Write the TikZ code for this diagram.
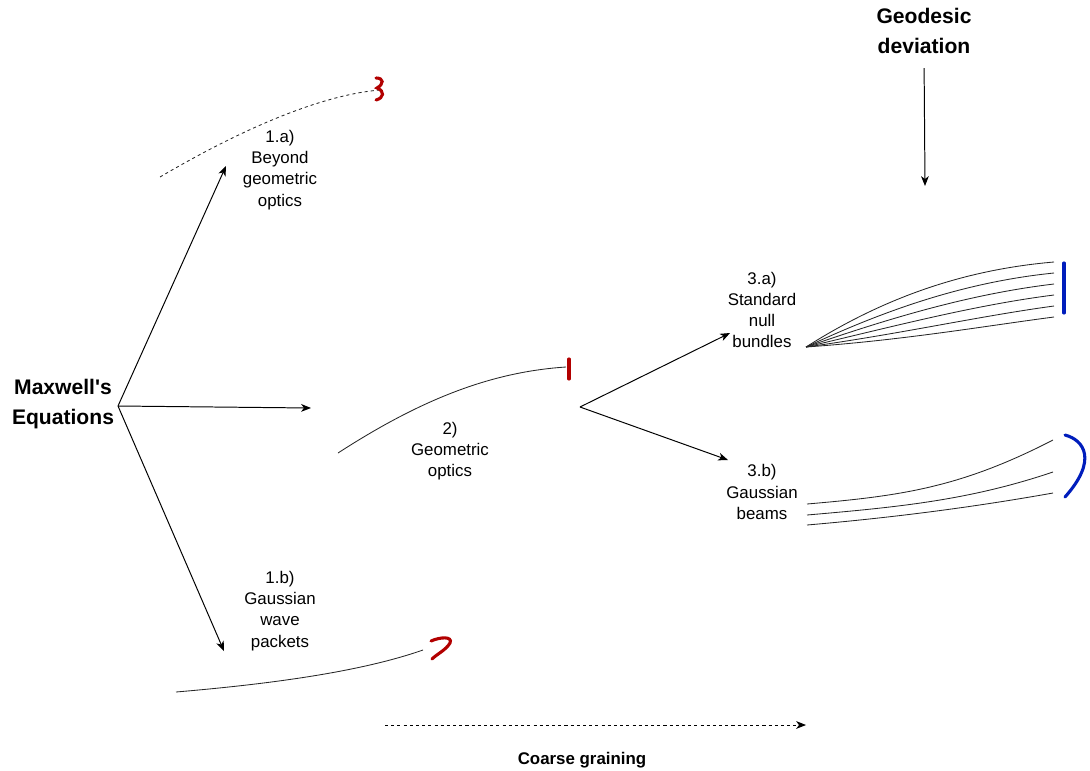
\documentclass[tikz,border=0pt]{standalone}
\usepackage{fontspec}
\setmainfont{Liberation Sans}
\usetikzlibrary{arrows.meta}

\definecolor{cutred}{HTML}{B20000}
\definecolor{cutblue}{HTML}{001DBC}

\begin{document}
\begin{tikzpicture}[x=0.025cm, y=-0.025cm, >={Stealth[length=7pt, width=5.5pt, inset=2pt]}, line width=0.7pt,
    label/.style={align=center, inner sep=0pt, font=\fontsize{12}{15}\selectfont},
    title/.style={align=center, inner sep=0pt, font=\fontsize{15}{21}\selectfont\bfseries},
    ray/.style={line width=0.6pt, black!85},
    cut/.style={line width=2.2pt, line cap=round}]
    \useasboundingbox (0,0) rectangle (1090,770);

    %define the text blocks
    \node[title] (maxwell) at (63,404) {Maxwell\textquotesingle s\\Equations};
    \node[title] (geo) at (924,31) {Geodesic\\deviation};
    \node[label] (beyond) at (280,170) {1.a)\\Beyond\\geometric\\optics};
    \node[label] (packets) at (280,611) {1.b)\\Gaussian\\wave\\packets};
    \node[label] (geom) at (450,451) {2)\\Geometric\\optics};
    \node[label] (bundles) at (762,310) {3.a)\\Standard\\null\\bundles};
    \node[label] (beams) at (762,492) {3.b)\\Gaussian\\beams};
    \node[inner sep=0pt, font=\fontsize{12}{15}\selectfont\bfseries] (coarse) at (582,760) {Coarse graining};

    %define the points the arrows run between
    \coordinate (fork1) at (118,406);
    \coordinate (to1a) at (226,166);
    \coordinate (to2) at (311,408);
    \coordinate (to1b) at (224,651);
    \coordinate (fork2) at (580,407);
    \coordinate (to3a) at (730,333);
    \coordinate (to3b) at (728,460);
    \coordinate (geotip) at (925,186);
    \coordinate (cgstart) at (385,725);
    \coordinate (cgend) at (806,725);

    %define the links
    \draw[->] (fork1) -- (to1a);
    \draw[->] (fork1) -- (to2);
    \draw[->] (fork1) -- (to1b);
    \draw[->] (fork2) -- (to3a);
    \draw[->] (fork2) -- (to3b);
    \draw[->, shorten <=10pt] (geo.south) -- (geotip);
    \draw[->, dash pattern=on 2.2pt off 2.2pt] (cgstart) -- (cgend);

    %the rays
    \draw[ray, dash pattern=on 2.2pt off 2.2pt] (160,177) .. controls (240,130) and (320,95) .. (380,90);
    \draw[ray] (338,453) .. controls (420,400) and (490,372) .. (566,367);
    \draw[ray] (176,692) .. controls (270,684) and (360,672) .. (423,650);

    %null bundle
    \draw[ray] (806,347) .. controls (880,300) and (960,270) .. (1054,262);
    \draw[ray] (806,347) .. controls (885,310) and (965,282) .. (1054,273);
    \draw[ray] (806,347) .. controls (890,318) and (970,294) .. (1054,284);
    \draw[ray] (806,347) .. controls (895,326) and (975,305) .. (1054,295);
    \draw[ray] (806,347) .. controls (900,334) and (980,316) .. (1054,306);
    \draw[ray] (806,347) .. controls (905,340) and (985,326) .. (1054,317);

    %gaussian beam
    \draw[ray] (807,504) .. controls (900,496) and (960,488) .. (1053,440);
    \draw[ray] (807,515) .. controls (900,507) and (970,500) .. (1053,472);
    \draw[ray] (807,525) .. controls (900,517) and (980,506) .. (1053,493);

    %the cut ends
    \draw[cut, cutred] (376,78) .. controls (384,78) and (384,84) .. (377,88)
                       .. controls (385,91) and (384,98) .. (376,100);
    \draw[cut, cutred] (569,359) -- (569,379);
    \draw[cut, cutred] (431,641) .. controls (440,637) and (453,636) .. (450,643)
                       .. controls (446,650) and (437,654) .. (432,659);
    \draw[cut, cutblue] (1064,263) -- (1064,313);
    \draw[cut, cutblue] (1065,435) .. controls (1084,440) and (1098,460) .. (1065,497);
\end{tikzpicture}
\end{document}
